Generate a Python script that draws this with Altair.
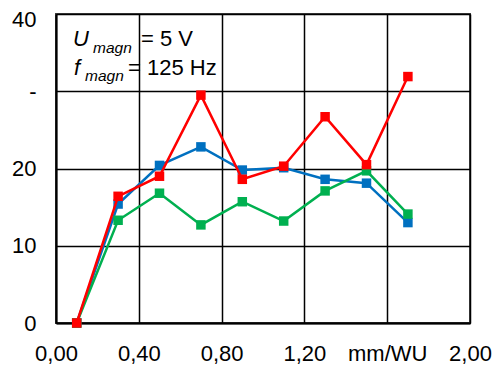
import altair as alt
import pandas as pd

x_vals = [0.1, 0.3, 0.5, 0.7, 0.9, 1.1, 1.3, 1.5, 1.7]
blue_vals = [0, 15.4, 20.4, 22.8, 19.8, 20.1, 18.6, 18.1, 13.0]
green_vals = [0, 13.3, 16.8, 12.7, 15.7, 13.2, 17.1, 19.7, 14.1]
red_vals = [0, 16.4, 19.0, 29.5, 18.6, 20.3, 26.7, 20.5, 31.9]

series = [("blue", blue_vals, "#0070C0"), ("green", green_vals, "#00B050"), ("red", red_vals, "#FF0000")]

FONT = "Liberation Sans"

xscale = alt.Scale(domain=[0, 2], nice=False, zero=False)
yscale = alt.Scale(domain=[0, 40], nice=False)

xaxis = alt.Axis(
    values=[0, 0.4, 0.8, 1.2, 1.6, 2.0],
    labelExpr="abs(datum.value-1.6)<0.01 ? 'mm/WU' : replace(format(datum.value, '.2f'), '.', ',')",
    title=None, grid=True, gridColor="black", gridWidth=1.5, gridOpacity=1,
    ticks=False, domain=True, domainColor="black", domainWidth=2,
    labelFont=FONT, labelFontSize=22, labelColor="black", labelPadding=20,
    labelFlush=False, labelOverlap=False,
)
yaxis = alt.Axis(
    values=[0, 10, 20, 30, 40],
    labelExpr="datum.value == 30 ? '- ' : datum.label",
    title=None, grid=True, gridColor="black", gridWidth=1.5, gridOpacity=1,
    ticks=False, domain=True, domainColor="black", domainWidth=2,
    labelFont=FONT, labelFontSize=22, labelColor="black", labelPadding=20,
    labelOffset={"condition": {"test": "datum.value == 40", "value": 5}, "value": 0},
    labelFlush=False, labelOverlap=False,
)

layers = []
for i, (name, vals, col) in enumerate(series):
    df = pd.DataFrame({"x": x_vals, "y": vals})
    base = alt.Chart(df)
    enc = dict(
        x=alt.X("x:Q", scale=xscale, axis=xaxis),
        y=alt.Y("y:Q", scale=yscale, axis=yaxis),
    )
    layers.append(base.mark_line(color=col, strokeWidth=2.5, clip=False).encode(**enc))
    layers.append(base.mark_point(shape="square", filled=True, size=90, color=col, opacity=1, clip=False).encode(**enc))

# annotation text pieces
ann = pd.DataFrame({"t": [0]})
def txt(s, x, y, size, italic):
    return alt.Chart(ann).mark_text(
        text=s, font=FONT, fontSize=size, fontStyle="italic" if italic else "normal",
        align="left", baseline="alphabetic", color="black"
    ).encode(x=alt.value(x), y=alt.value(y))

texts = [
    txt("U", 17, 32, 22, True),
    txt("magn", 37, 39, 15.5, True),
    txt("= 5 V", 85, 32, 22, False),
    txt("f", 18, 61, 22, True),
    txt("magn", 29, 67, 15.5, True),
    txt("= 125 Hz", 72, 61, 22, False),
]

chart = alt.layer(*layers, *texts).properties(
    width=414, height=309,
    background="white",
    autosize=alt.AutoSizeParams(type="none"),
    padding={"left": 48, "top": 6, "right": 24, "bottom": 45},
).configure_view(stroke="#404040", strokeWidth=2)

chart.save("out.html", embed_options={"renderer": "svg", "actions": False})
